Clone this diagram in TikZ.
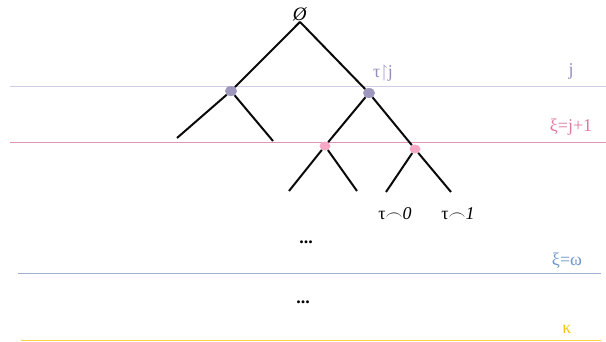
\documentclass[tikz,border=0pt]{standalone}
\usepackage{amssymb}
\usepackage{fontspec}
\setmainfont{Liberation Serif}
\usetikzlibrary{shapes.geometric, positioning}
\definecolor{mydark}{RGB}{10,10,10}
\definecolor{mygray}{RGB}{158,152,190}
\definecolor{mypink}{RGB}{246,168,196}
\definecolor{linej}{RGB}{208,204,228}
\definecolor{linexi}{RGB}{226,150,182}
\definecolor{lineomega}{RGB}{160,178,208}
\definecolor{linekappa}{RGB}{250,212,70}
\definecolor{txtj}{RGB}{150,140,190}
\definecolor{txtxi}{RGB}{222,120,160}
\definecolor{txtomega}{RGB}{110,150,205}
\definecolor{txtkappa}{RGB}{248,196,20}
\tikzset{
  edge/.style={line width=2pt, color=mydark},
  graydot/.style={ellipse, fill=mygray, minimum width=12pt, minimum height=10pt, inner sep=0pt},
  pinkdot/.style={ellipse, fill=mypink, minimum width=11pt, minimum height=9pt, inner sep=0pt},
  level/.style={line width=0.9pt},
  lbl/.style={font=\fontsize{18}{21}\selectfont},
  dots/.style={font=\bfseries\fontsize{18}{21}\selectfont, anchor=base}
}

\begin{document}
\begin{tikzpicture}[x=1pt, y=-1pt]
  \useasboundingbox (0,0) rectangle (606,342);

  % levels
  \draw[level, linej] (10,86) -- (606,86);
  \draw[level, linexi] (10,142) -- (606,142);
  \draw[level, lineomega] (18,273) -- (601,273);
  \draw[level, linekappa] (21,340) -- (601,340);
  \node[lbl, color=txtj] (lj) at (571,71) {j};
  \node[lbl, color=txtxi] (lxi) at (571,127) {ξ=j+1};
  \node[lbl, color=txtomega] (lomega) at (567,261) {ξ=ω};
  \node[lbl, color=txtkappa] (lkappa) at (567,329) {κ};

  % tree
  \node[font=\fontsize{19}{21}\selectfont, inner sep=1pt] (root) at (300,14) {\textit{Ø}};
  \node[graydot] (a) at (231,91) {};
  \node[graydot] (b) at (369,93) {};
  \node[pinkdot] (c) at (325,146) {};
  \node[pinkdot] (d) at (415,149) {};
  \coordinate (a1) at (177,138);
  \coordinate (a2) at (273,141);
  \coordinate (c1) at (289,191);
  \coordinate (c2) at (357,191);
  \coordinate (d1) at (386,192);
  \coordinate (d2) at (451,192);

  \draw[edge] (root.south) -- (a);
  \draw[edge] (root.south) -- (b);
  \draw[edge] (a) -- (a1);
  \draw[edge] (a) -- (a2);
  \draw[edge] (b) -- (c);
  \draw[edge] (b) -- (d);
  \draw[edge] (c) -- (c1);
  \draw[edge] (c) -- (c2);
  \draw[edge] (d) -- (d1);
  \draw[edge] (d) -- (d2);

  \node[lbl, color=txtj] (tj) at (383,73) {τ$\upharpoonright$j};
  \node[lbl] (t0) at (395,214) {τ$\frown$\textit{0}};
  \node[lbl] (t1) at (458,214) {τ$\frown$\textit{1}};

  \node[dots] (more1) at (306,244) {...};
  \node[dots] (more2) at (303,304) {...};
\end{tikzpicture}
\end{document}
